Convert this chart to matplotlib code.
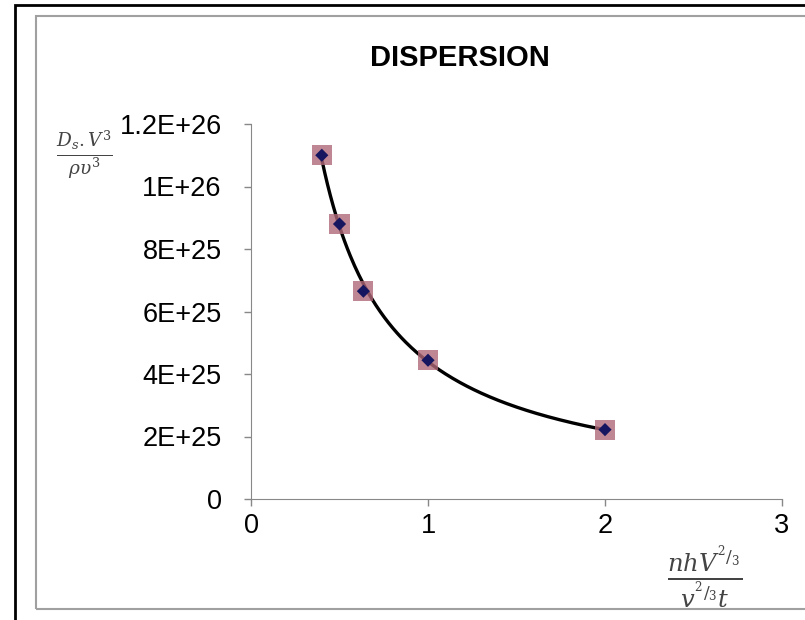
import numpy as np
import matplotlib
matplotlib.use("Agg")
import matplotlib.pyplot as plt
from matplotlib.patches import Rectangle

plt.rcParams['font.family'] = ['Liberation Sans', 'DejaVu Sans']
plt.rcParams['mathtext.fontset'] = 'dejavuserif'

# data
x_vals = [0.4, 0.5, 0.635, 1.0, 2.0]
y_vals = [1.10e26, 8.8e25, 6.65e25, 4.44e25, 2.22e25]
y_ticks = [0, 2e25, 4e25, 6e25, 8e25, 1e26, 1.2e26]
y_ticklabels = ["0", "2E+25", "4E+25", "6E+25", "8E+25", "1E+26", "1.2E+26"]
x_ticks = [0, 1, 2, 3]

fig = plt.figure(figsize=(8.05, 6.2), dpi=100)

# frames around the chart
fig.patches.append(Rectangle((15/805, -0.01), 1.0, (615/620) + 0.01, transform=fig.transFigure,
                             fill=False, edgecolor="black", linewidth=2))
fig.patches.append(Rectangle((36/805, 11/620), 1.0, 593/620, transform=fig.transFigure,
                             fill=False, edgecolor="#a0a0a0", linewidth=1.5))

ax = fig.add_axes([251/805, 121/620, 531/805, 375/620])

# power trendline
p = np.polyfit(np.log(x_vals), np.log(y_vals), 1)
xs = np.linspace(min(x_vals), max(x_vals), 200)
ax.plot(xs, np.exp(p[1]) * xs ** p[0], color="black", linewidth=2.4, zorder=2)

ax.scatter(x_vals, y_vals, marker="s", s=210, color="#b06878", alpha=0.8,
           edgecolors="none", zorder=3)
ax.scatter(x_vals, y_vals, marker="D", s=45, color="#151560", edgecolors="none", zorder=4)

ax.set_xlim(0, 3)
ax.set_ylim(0, 1.2e26)
ax.set_xticks(x_ticks)
ax.set_yticks(y_ticks)
ax.set_yticklabels(y_ticklabels)
ax.tick_params(labelsize=19.5, colors="#888888", labelcolor="black", length=5, width=1)
ax.tick_params(axis="y", pad=16)
ax.tick_params(axis="x", pad=5)
for s in ["top", "right"]:
    ax.spines[s].set_visible(False)
for s in ["left", "bottom"]:
    ax.spines[s].set_color("#888888")

fig.text(460/805, 1 - 58/620, "DISPERSION", ha="center", va="center",
         fontsize=21, fontweight="bold")
fig.text(84/805, 1 - 155/620, r"$\frac{D_s.V^3}{\rho\upsilon^3}$", ha="center", va="center",
         fontsize=19, color="#444444")
fig.text(705/805, 1 - 577/620, r"$\frac{nhV^{{}^2/_3}}{v^{{}^2/_3}t}$", ha="center", va="center",
         fontsize=25, color="#444444")

fig.savefig("out.png", dpi=100)
